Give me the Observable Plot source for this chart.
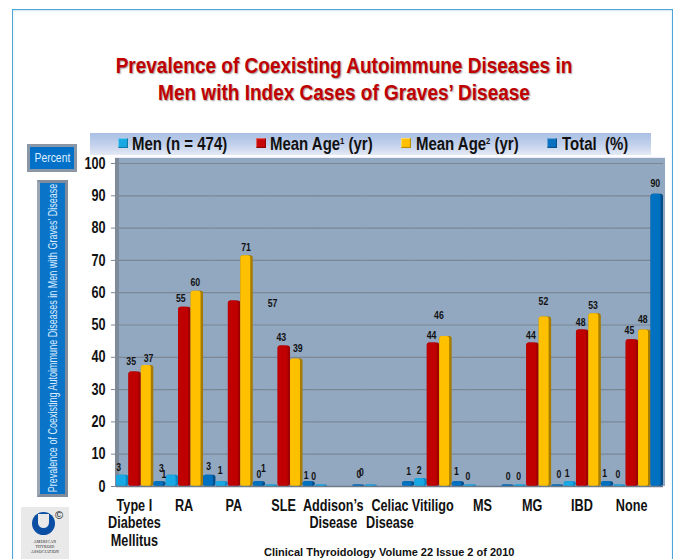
<!DOCTYPE html>
<html><head><meta charset="utf-8">
<script src="https://cdn.jsdelivr.net/npm/d3@7"></script>
<script src="https://cdn.jsdelivr.net/npm/@observablehq/plot@0.6"></script>
<style>
html,body{margin:0;padding:0;background:#fff;width:677px;height:559px;overflow:hidden}
body{position:relative;font-family:"Liberation Sans",Arial,sans-serif;font-weight:bold;color:#111}
.abs{position:absolute}
#frame{left:12px;top:9px;width:659px;height:560px;border:1.5px solid #4ea5da;box-shadow:inset 0 1px 2px #cfe6f5}
.title{left:0;width:688px;text-align:center;color:#c00000;font-size:22px;line-height:27px;text-shadow:1px 1px 1.5px #999;white-space:nowrap;transform:scaleX(.864)}
#wall{left:115px;top:158px;width:550px;height:328px;background:#92a7c0;box-shadow:0 -1px 1px #eef}
#side{left:115px;top:158px;width:4px;height:328px;background:#7f8a99}
#legend{left:90px;top:133px;width:561px;height:22px;background:linear-gradient(#a9bfe4,#c4d2ec 55%,#e4e9f4)}
.sw{width:10px;height:10px;top:138px;box-shadow:inset -1px -1px 1px rgba(0,0,0,.3),inset 1px 1px 1px rgba(255,255,255,.4)}
.lg{top:133px;line-height:22px;font-size:17.5px;white-space:pre;transform:scaleX(.855);transform-origin:left center}
sup{font-size:9px;line-height:0;vertical-align:6px}
#pct{left:27px;top:144px;width:44px;height:22px;line-height:22px;text-align:center;border:3px solid #8a97a6;background:#0070c8;color:#dfefff;font-size:13px;font-weight:normal}
#pct span{display:inline-block;transform:scaleX(.8)}
#vbox{left:37px;top:180px;width:25px;height:311px;border:3px solid #7f8c9b;border-left-color:#9aa6b3;background:#0a74c8}
#vtext{left:53px;top:338px;width:0;height:0;color:#dcecff;font-size:12.2px;font-weight:normal;white-space:nowrap}
#vtext span{display:block;width:500px;margin-left:-250px;margin-top:-8px;text-align:center;line-height:16px;transform:rotate(-90deg) scaleX(.74)}
#foot{left:264px;top:545px;font-size:11px;white-space:nowrap;line-height:14px}
#logo{left:21px;top:507px;width:48px;height:52px;background:#e9e9e9}
#seal{left:11px;top:5px;width:23px;height:23px;border-radius:50%;background:#0a4fa3}
#seal i{position:absolute;left:6px;top:2px;width:11px;height:14px;background:#e9e9e9;border-radius:0 0 6px 6px}
#copy{left:34px;top:2px;font-size:11px;font-weight:normal}
#assoc{left:0;top:33px;width:48px;text-align:center;font:normal 3.8px/5px "Liberation Serif",serif;letter-spacing:.3px}
#plot{left:0;top:0}
svg{display:block}
</style></head>
<body>
<div id="frame" class="abs"></div>
<div class="abs title" style="top:52px">Prevalence of Coexisting Autoimmune Diseases in</div>
<div class="abs title" style="top:79px">Men with Index Cases of Graves’ Disease</div>
<div id="legend" class="abs"></div>
<div class="abs sw" style="left:118px;background:#18a8e4"></div><div class="abs lg" style="left:132px">Men (n = 474)</div>
<div class="abs sw" style="left:256px;background:#c80808"></div><div class="abs lg" style="left:270px">Mean Age<sup>1</sup> (yr)</div>
<div class="abs sw" style="left:401px;background:#ffc000"></div><div class="abs lg" style="left:416px">Mean Age<sup>2</sup> (yr)</div>
<div class="abs sw" style="left:547px;background:#0a70c0"></div><div class="abs lg" style="left:562px">Total  (%)</div>
<div id="pct" class="abs"><span>Percent</span></div>
<div id="vbox" class="abs"></div>
<div id="vtext" class="abs"><span>Prevalence of Coexisting Autoimmune Diseases in Men with Graves’ Disease</span></div>
<div id="wall" class="abs"></div>
<div id="side" class="abs"></div>
<div id="logo" class="abs"><div id="seal" class="abs"><i></i></div><div id="copy" class="abs">©</div><div id="assoc" class="abs">AMERICAN<br>THYROID<br>ASSOCIATION</div></div>
<div id="foot" class="abs">Clinical Thyroidology Volume 22 Issue 2 of 2010</div>
<div id="plot" class="abs"></div>
<script>
const categories = ["Type I\nDiabetes\nMellitus","RA","PA","SLE","Addison’s\nDisease","Celiac\nDisease","Vitiligo","MS","MG","IBD","None"];
const seriesNames = ["Men","Mean Age 1","Mean Age 2","Total"];
const men      = [3,3,1,0,0,0,2,0,0,1,0];
const meanAge1 = [35,55,57,43,null,null,44,null,44,48,45];
const meanAge2 = [37,60,71,39,null,null,46,null,52,53,48];
const total    = [1,3,1,1,0,1,1,0,0,1,90];
const yTicks   = [0,10,20,30,40,50,60,70,80,90,100];
const frontColors = ["#18a8e4","#c00000","#ffc000","#0070c0"];
const sideColors  = ["#0d86c4","#a00000","#a67c00","#004f8c"];

const lists = [men,meanAge1,meanAge2,total];
const rows = categories.flatMap((c,i)=>seriesNames.map((s,j)=>({category:c,series:s,value:lists[j][i]}))).filter(d=>d.value!=null);
const sideOf = new Map(seriesNames.map((s,j)=>[s,sideColors[j]]));

// one value label, nudged from its bar top as in the source slide
const lab = (ci,sj,dx,dy)=>Plot.text(rows.filter(d=>d.category===categories[ci]&&d.series===seriesNames[sj]),
  {fx:"category",x:"series",y:"value",text:d=>String(d.value),dx,dy,fontSize:11,fontWeight:"bold",fill:"#111"});

const labels = [
 lab(0,0,-4,-9),lab(0,1,-4,-12),lab(0,2,1,-9),lab(0,3,4,-9),
 lab(1,0,-11,-8),lab(1,1,-4,-10),lab(1,2,-2,-10),lab(1,3,-1,-10),
 lab(2,0,-2,-13),lab(2,1,38,1),lab(2,2,-1,-10),lab(2,3,4,-15),
 lab(3,0,-13,-12),lab(3,1,-3,-10),lab(3,2,1,-12),lab(3,3,-3,-8),
 lab(4,0,-8,-10),lab(4,3,0,-12),
 lab(5,0,-10,-14),lab(5,3,0,-12),
 lab(6,0,-2,-10),lab(6,1,-2,-9),lab(6,2,-7,-22),lab(6,3,-2,-12),
 lab(7,0,-3,-10),lab(7,3,0,-10),
 lab(8,0,-2,-10),lab(8,1,-2,-9),lab(8,2,-2,-17),lab(8,3,1,-12),
 lab(9,0,-3,-10),lab(9,1,-2,-9),lab(9,2,-2,-10),lab(9,3,-3,-10),
 lab(10,0,-2,-12),lab(10,1,-3,-11),lab(10,2,-2,-12),lab(10,3,-2,-12)
];

const chart = Plot.plot({
  width:677,height:559,marginLeft:116,marginRight:14,marginTop:163,marginBottom:73,
  style:{background:"transparent",fontFamily:'"Liberation Sans",Arial,sans-serif',overflow:"visible"},
  fx:{domain:categories,padding:0,round:false,label:null,axis:null},
  x:{domain:seriesNames,padding:0,round:false,axis:null},
  y:{domain:[0,100],axis:null},
  color:{domain:seriesNames,range:frontColors},
  marks:[
    Plot.gridY(yTicks,{stroke:"#7b8794",strokeOpacity:1,strokeWidth:1.2}),
    Plot.axisY({ticks:yTicks,anchor:"left",tickSize:5,tickPadding:6,fontSize:16,fontWeight:"bold",label:null,stroke:"#7b8794",color:"#111"}),
    Plot.text(categories.filter(c=>!c.startsWith("Celiac")),{fx:d=>d,text:d=>d,frameAnchor:"bottom",lineAnchor:"top",dy:12,dx:-7,fontSize:16,fontWeight:"bold",lineHeight:1.09,fill:"#111"}),
    Plot.text(categories.filter(c=>c.startsWith("Celiac")),{fx:d=>d,text:d=>d,frameAnchor:"bottom",lineAnchor:"top",dy:12,fontSize:16,fontWeight:"bold",lineHeight:1.09,fill:"#111"}),
    Plot.barY(rows,{fx:"category",x:"series",y:"value",fill:{value:d=>sideOf.get(d.series),scale:null},insetTop:-1.5,rx:2.5}),
    Plot.barY(rows,{fx:"category",x:"series",y:"value",fill:"series",insetTop:-1.5,insetRight:2.5,rx:2.5}),
    Plot.ruleY([0],{stroke:"#6d7a8a",strokeWidth:1.5}),
    ...labels
  ]
});
document.getElementById("plot").appendChild(chart);
// the source type is a condensed sans: squeeze every SVG label horizontally
chart.querySelectorAll("text").forEach(el=>{
  const spans = el.querySelectorAll("tspan");
  (spans.length?Array.from(spans):[el]).forEach(t=>{
    t.setAttribute("textLength",(t.getComputedTextLength()*0.79).toFixed(1));
    t.setAttribute("lengthAdjust","spacingAndGlyphs");
  });
});
</script>
</body></html>
